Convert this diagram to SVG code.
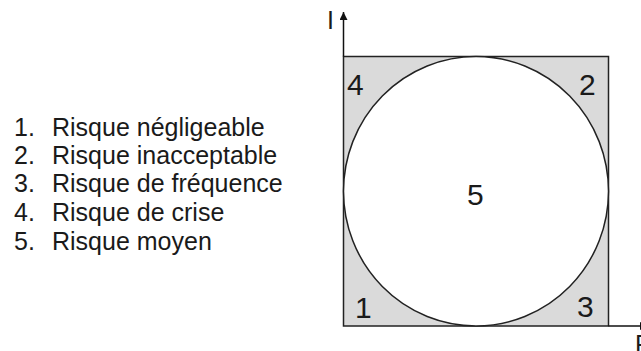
<svg xmlns="http://www.w3.org/2000/svg" width="641" height="351" viewBox="0 0 641 351">
<style>
.t{font-family:"Liberation Sans",Arial,sans-serif;fill:#1a1a1a}
.leg{font-size:25px}
.num{font-size:30px}
.ax{stroke:#111;stroke-width:1.5;fill:none}
</style>
<defs>
<marker id="ah" viewBox="0 0 10 10" refX="10" refY="5" markerWidth="8" markerHeight="8" markerUnits="userSpaceOnUse" orient="auto"><path d="M0,0 L10,5 L0,10 Z" fill="#111"/></marker>
</defs>
<rect width="641" height="351" fill="#fff"/>
<g id="legend" class="t leg">
<text x="14" y="136">1.<tspan x="52">Risque négligeable</tspan></text>
<text x="14" y="164">2.<tspan x="52">Risque inacceptable</tspan></text>
<text x="14" y="192">3.<tspan x="52">Risque de fréquence</tspan></text>
<text x="14" y="221">4.<tspan x="52">Risque de crise</tspan></text>
<text x="14" y="250">5.<tspan x="52">Risque moyen</tspan></text>
</g>
<g id="square">
<rect x="343.5" y="56.5" width="265" height="269.5" fill="#dadada" stroke="#222" stroke-width="1.5"/>
</g>
<g id="circle">
<ellipse cx="476" cy="191.2" rx="132.5" ry="134.7" fill="#fff" stroke="#222" stroke-width="1.5"/>
</g>
<g id="connectors">
<line class="ax" x1="343.5" y1="56.5" x2="343.5" y2="12" marker-end="url(#ah)"/>
<line class="ax" x1="608.5" y1="326" x2="648" y2="326" marker-end="url(#ah)"/>
</g>
<g id="labels" class="t num">
<text x="347" y="95">4</text>
<text x="579" y="95">2</text>
<text x="355" y="318">1</text>
<text x="577" y="317">3</text>
<text x="467" y="205">5</text>
</g>
<g id="axis-labels" class="t" font-size="25">
<text x="327" y="29">I</text>
<text x="635" y="353">P</text>
</g>
</svg>
